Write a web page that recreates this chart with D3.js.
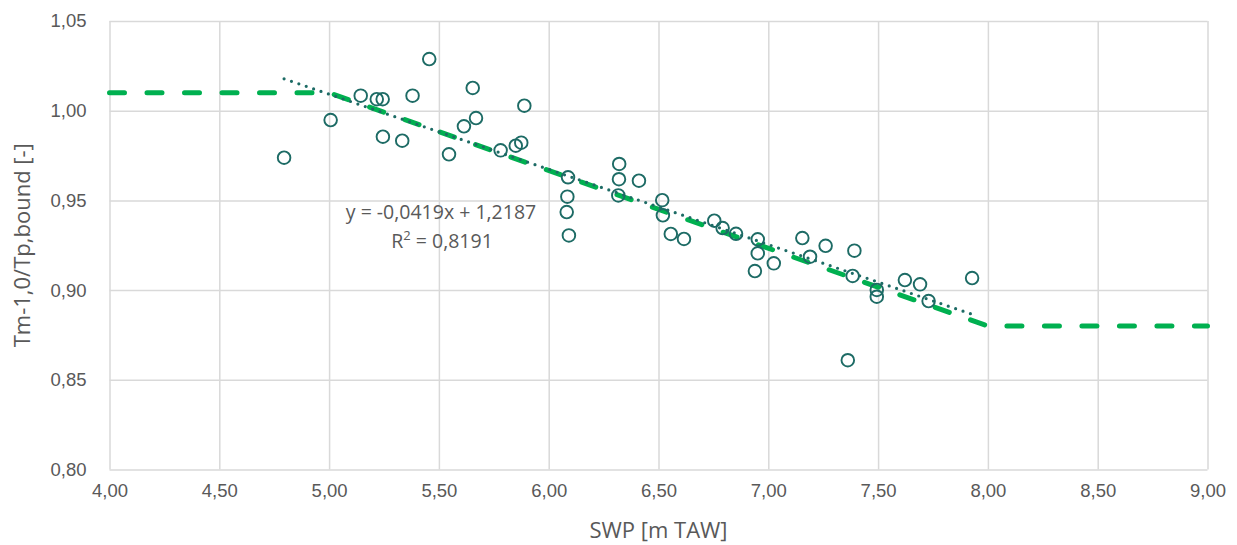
<!DOCTYPE html>
<html>
<head>
<meta charset="utf-8">
<script src="https://cdn.jsdelivr.net/npm/d3@7"></script>
<style>
  html, body { margin: 0; padding: 0; background: #fff; }
  svg { display: block; font-family: "Open Sans", "Noto Sans", sans-serif; }
</style>
</head>
<body>
<svg id="chart" width="1237" height="545"></svg>
<script>
// Measured points: SWP [m TAW] vs Tm-1,0/Tp,bound [-]
const swp = [
  4.795, 5.007, 5.144, 5.217, 5.244, 5.245, 5.333, 5.380, 5.456, 5.546,
  5.614, 5.654, 5.669, 5.781, 5.850, 5.875, 5.889, 6.088, 6.085, 6.082,
  6.092, 6.321, 6.320, 6.317, 6.411, 6.517, 6.520, 6.556, 6.616, 6.754,
  6.792, 6.853, 6.952, 6.952, 6.939, 7.025, 7.155, 7.190, 7.261, 7.392,
  7.384, 7.362, 7.494, 7.494, 7.622, 7.691, 7.730, 7.928
];
const ratio = [
  0.9738, 0.9948, 1.0084, 1.0064, 1.0064, 0.9855, 0.9833, 1.0084, 1.0288, 0.9757,
  0.9913, 1.0127, 0.9959, 0.9779, 0.9805, 0.9822, 1.0028, 0.9629, 0.9521, 0.9435,
  0.9305, 0.9703, 0.9618, 0.9528, 0.9610, 0.9501, 0.9417, 0.9313, 0.9285, 0.9387,
  0.9346, 0.9314, 0.9283, 0.9205, 0.9106, 0.9149, 0.9290, 0.9186, 0.9247, 0.9220,
  0.9079, 0.8609, 0.9001, 0.8963, 0.9056, 0.9032, 0.8939, 0.9067
];

// Design bound (piecewise linear)
const boundX = [4.00, 5.00, 8.00, 9.00];
const boundY = [1.01, 1.01, 0.88, 0.88];

// Linear trend y = a*x + b
const trendSlope = -0.0419;
const trendIntercept = 1.2187;
const trendLabel = "y = -0,0419x + 1,2187";
const r2Value = "0,8191";

const xTicks = [4.0, 4.5, 5.0, 5.5, 6.0, 6.5, 7.0, 7.5, 8.0, 8.5, 9.0];
const yTicks = [0.80, 0.85, 0.90, 0.95, 1.00, 1.05];

const xTitle = "SWP [m TAW]";
const yTitle = "Tm-1,0/Tp,bound [-]";

const margin = { left: 109.5, right: 1237 - 1207.5, top: 21, bottom: 545 - 469.5 };
const W = 1237, H = 545;
const svg = d3.select("#chart");

const x = d3.scaleLinear().domain([4, 9]).range([margin.left, W - margin.right]);
const y = d3.scaleLinear().domain([0.80, 1.05]).range([H - margin.bottom, margin.top]);

const fmt = d => d3.format(".2f")(d).replace(".", ",");
const textColor = "#595959";
const gridColor = "#d9d9d9";

// Gridlines
const xAxis = d3.axisBottom(x).tickValues(xTicks).tickFormat(fmt)
  .tickSize(-(y.range()[0] - y.range()[1])).tickPadding(14);
const yAxis = d3.axisLeft(y).tickValues(yTicks).tickFormat(fmt)
  .tickSize(-(x.range()[1] - x.range()[0])).tickPadding(23);

const gx = svg.append("g")
  .attr("transform", `translate(0,${y(0.80)})`)
  .call(xAxis);
const gy = svg.append("g")
  .attr("transform", `translate(${x(4)},0)`)
  .call(yAxis);

[gx, gy].forEach(g => {
  g.select(".domain").remove();
  g.selectAll(".tick line").attr("stroke", gridColor).attr("stroke-width", 1.5);
  g.selectAll(".tick text")
    .attr("fill", textColor)
    .style("font-size", "18.5px");
});
gx.selectAll(".tick text").attr("dy", "0.71em");

// Design bound line
const line = d3.line().x(d => x(d[0])).y(d => y(d[1]));
svg.append("path")
  .datum(boundX.map((v, i) => [v, boundY[i]]))
  .attr("d", line)
  .attr("fill", "none")
  .attr("stroke", "#00b050")
  .attr("stroke-width", 5)
  .attr("stroke-linecap", "round")
  .attr("stroke-dasharray", "15 22.5");

// Points
svg.append("g").selectAll("circle")
  .data(swp.map((v, i) => [v, ratio[i]]))
  .join("circle")
  .attr("cx", d => x(d[0]))
  .attr("cy", d => y(d[1]))
  .attr("r", 6.3)
  .attr("fill", "none")
  .attr("stroke", "#1d6b65")
  .attr("stroke-width", 1.9);

// Trend line over the data range
const xmin = d3.min(swp), xmax = d3.max(swp);
svg.append("path")
  .datum([[xmin, trendSlope * xmin + trendIntercept], [xmax, trendSlope * xmax + trendIntercept]])
  .attr("d", line)
  .attr("fill", "none")
  .attr("stroke", "#1d6b65")
  .attr("stroke-width", 3.2)
  .attr("stroke-linecap", "round")
  .attr("stroke-dasharray", "0 7.8");

// Trend equation
const eq = svg.append("g").attr("fill", textColor).style("font-size", "19.5px").attr("text-anchor", "middle");
eq.append("text").attr("x", 441).attr("y", 219).text(trendLabel);
const r2 = eq.append("text").attr("x", 442).attr("y", 248);
r2.append("tspan").text("R");
r2.append("tspan").attr("dy", -8).style("font-size", "13px").text("2");
r2.append("tspan").attr("dy", 8).text(" = " + r2Value);

// Axis titles
svg.append("text")
  .attr("x", (x.range()[0] + x.range()[1]) / 2)
  .attr("y", 538)
  .attr("text-anchor", "middle")
  .attr("fill", textColor)
  .style("font-size", "22px")
  .text(xTitle);

svg.append("text")
  .attr("transform", `translate(30,${(y.range()[0] + y.range()[1]) / 2}) rotate(-90)`)
  .attr("text-anchor", "middle")
  .attr("fill", textColor)
  .style("font-size", "22px")
  .text(yTitle);
</script>
</body>
</html>
